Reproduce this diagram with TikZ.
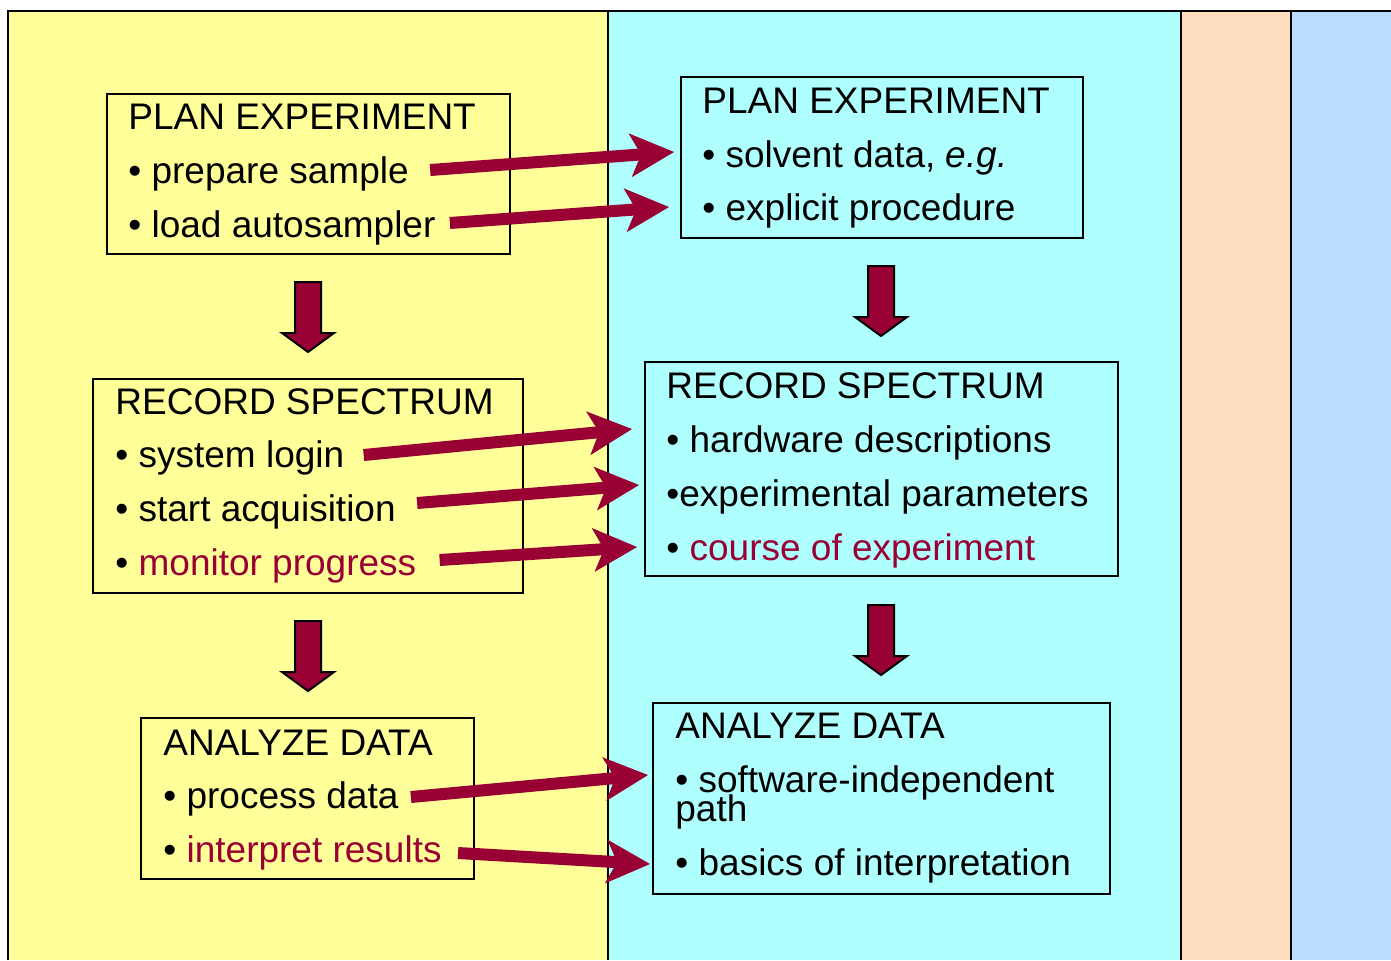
\documentclass[tikz,border=0pt]{standalone}
\usepackage{fontspec}
\setmainfont{Liberation Sans}
\usepackage{tikz}
\usepackage{xcolor}
\usetikzlibrary{arrows.meta}
\definecolor{colyellow}{HTML}{FFFF99}
\definecolor{colcyan}{HTML}{AFFFFF}
\definecolor{colpeach}{HTML}{FFDEC0}
\definecolor{colblue}{HTML}{BBDDFF}
\definecolor{arrowred}{HTML}{990033}
\tikzset{
  boxtext/.style={anchor=base west, inner sep=0pt, text height=13.5pt, text depth=3.5pt, font=\fontsize{18.5}{22}\selectfont},
  sidearrow/.style={arrowred, line width=6pt, -{Stealth[length=22pt, width=22pt, inset=5.5pt, line width=0pt]}},
  pics/downblock/.style={code={\draw[fill=arrowred, line width=1pt, line join=miter] (-13,0) -- (13,0) -- (13,51) -- (26,51) -- (0,70) -- (-26,51) -- (-13,51) -- cycle;}}
}

\begin{document}
\begin{tikzpicture}[x=0.5pt, y=-0.5pt]
\useasboundingbox (0,0) rectangle (1391,960);
\fill[colyellow] (8,11) rectangle (608,960);
\fill[colcyan] (608,11) rectangle (1181,960);
\fill[colpeach] (1181,11) rectangle (1291,960);
\fill[colblue] (1291,11) rectangle (1391,960);
\draw[line width=1pt] (8,960) -- (8,11) -- (1391,11);
\draw[line width=0.75pt] (608,11) -- (608,960);
\draw[line width=0.75pt] (1181,11) -- (1181,960);
\draw[line width=0.75pt] (1291,11) -- (1291,960);

\draw[line width=1pt] (107,94) rectangle (510,254);
\draw[line width=1pt] (93,379) rectangle (523,593);
\draw[line width=1pt] (141,718) rectangle (474,879);
\draw[line width=1pt] (681,77) rectangle (1083,238);
\draw[line width=1pt] (645,362) rectangle (1118,576);
\draw[line width=1pt] (653,703) rectangle (1110,894);

\node[boxtext] (lplan) at (128,129) {PLAN EXPERIMENT};
\node[boxtext] (lprep) at (128,183) {• prepare sample};
\node[boxtext] (lload) at (128,237) {• load autosampler};
\node[boxtext] (lrec) at (115,414) {RECORD SPECTRUM};
\node[boxtext] (llogin) at (115,467) {• system login};
\node[boxtext] (lstart) at (115,521) {• start acquisition};
\node[boxtext] (lmon) at (115,575) {• \textcolor{arrowred}{monitor progress}};
\node[boxtext] (lana) at (163,755) {ANALYZE DATA};
\node[boxtext] (lproc) at (163,808) {• process data};
\node[boxtext] (linter) at (163,862) {• \textcolor{arrowred}{interpret results}};

\node[boxtext] (rplan) at (702,113) {PLAN EXPERIMENT};
\node[boxtext] (rsolv) at (702,167) {• solvent data, \textit{e.g.}};
\node[boxtext] (rproc) at (702,220) {• explicit procedure};
\node[boxtext] (rrec) at (666,398) {RECORD SPECTRUM};
\node[boxtext] (rhard) at (666,452) {• hardware descriptions};
\node[boxtext] (rexp) at (666,506) {•experimental parameters};
\node[boxtext] (rcourse) at (666,560) {• \textcolor{arrowred}{course of experiment}};
\node[boxtext] (rana) at (675,738) {ANALYZE DATA};
\node[boxtext] (rsoft) at (675,792) {• software-independent};
\node[boxtext, text height=10pt] (rpath) at (675,821) {path};
\node[boxtext] (rbasic) at (675,875) {• basics of interpretation};

\pic at (308,282) {downblock};
\pic at (308,621) {downblock};
\pic at (881,266) {downblock};
\pic at (881,605) {downblock};

\draw[sidearrow] ([xshift=10.5pt,yshift=1.5pt]lprep.east) -- ([xshift=-14pt,yshift=2.5pt]rsolv.west);
\draw[sidearrow] ([xshift=7pt,yshift=2pt]lload.east) -- ([xshift=-16.5pt,yshift=1.5pt]rproc.west);
\draw[sidearrow] ([xshift=9.5pt,yshift=1pt]llogin.east) -- ([xshift=-17pt,yshift=6.5pt]rhard.west);
\draw[sidearrow] ([xshift=10.5pt,yshift=4pt]lstart.east) -- ([xshift=-13.5pt,yshift=5.5pt]rexp.west);
\draw[sidearrow] ([xshift=11.5pt,yshift=2.5pt]lmon.east) -- ([xshift=-14.5pt,yshift=1.5pt]rcourse.west);
\draw[sidearrow] ([xshift=6pt,yshift=0.5pt]lproc.east) -- ([xshift=-13.5pt,yshift=3.5pt]rsoft.west);
\draw[sidearrow] ([xshift=8pt,yshift=-0.5pt]linter.east) -- ([xshift=-12.5pt,yshift=0.5pt]rbasic.west);
\end{tikzpicture}
\end{document}
